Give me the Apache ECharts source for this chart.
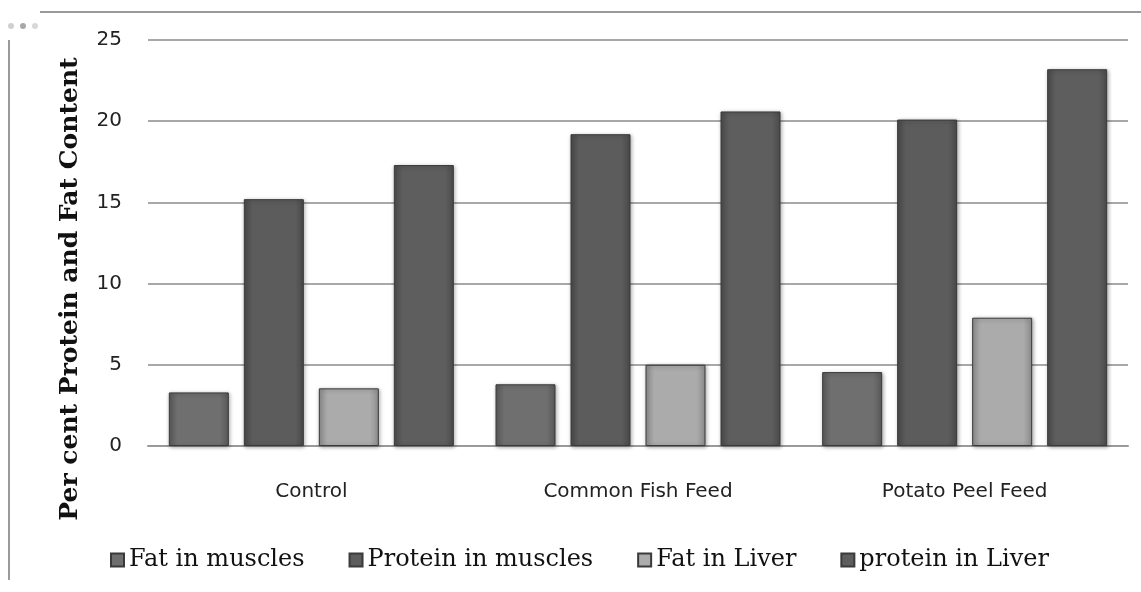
<!DOCTYPE html>
<html style="height: 100%" lang="en">
<head>
    <meta charset="UTF-8">
    <title>Protein and Fat Content</title>
</head>
<body style="height: 100%; margin: 0; background: #fff">
<div id="main" style="width: 1141px; height: 592px"></div>

<script src="https://cdn.jsdelivr.net/npm/echarts@6/dist/echarts.min.js"></script>
<script type="text/javascript">
    // data
    var categories = ['Control', 'Common Fish Feed', 'Potato Peel Feed'];
    var fatMuscles = [3.3, 3.8, 4.55];
    var proteinMuscles = [15.2, 19.2, 20.1];
    var fatLiver = [3.55, 5.0, 7.9];
    var proteinLiver = [17.3, 20.6, 23.2];
    var yTicks = [0, 5, 10, 15, 20, 25];
    var yName = 'Per cent Protein and Fat Content';

    function shade(c1, c2) {
        return new echarts.graphic.LinearGradient(0, 0, 1, 0, [
            {offset: 0, color: c2},
            {offset: 0.15, color: c1},
            {offset: 0.85, color: c1},
            {offset: 1, color: c2}
        ]);
    }

    function bar(name, values, c1, c2) {
        return {
            name: name,
            type: 'bar',
            data: values,
            barWidth: 60,
            barGap: '25%',
            itemStyle: {
                color: shade(c1, c2),
                borderColor: '#3a3a3a',
                borderWidth: 1,
                shadowColor: 'rgba(0,0,0,0.35)',
                shadowBlur: 4,
                shadowOffsetX: 1,
                shadowOffsetY: 1
            }
        };
    }

    var chart = echarts.init(document.getElementById('main'));
    chart.setOption({
        animation: false,
        graphic: [
            {type: 'line', shape: {x1: 40, y1: 12, x2: 1141, y2: 12}, style: {stroke: '#9a9a9a', lineWidth: 2}},
            {type: 'line', shape: {x1: 9, y1: 40, x2: 9, y2: 580}, style: {stroke: '#9a9a9a', lineWidth: 2}},
            {type: 'circle', shape: {cx: 11, cy: 26, r: 3}, style: {fill: '#d0d0d0'}},
            {type: 'circle', shape: {cx: 23, cy: 26, r: 3}, style: {fill: '#a8a8a8'}},
            {type: 'circle', shape: {cx: 35, cy: 26, r: 3}, style: {fill: '#d8d8d8'}},
            // y axis title, centred on the whole chart height like the reference
            {
                type: 'text', x: 70, y: 289, rotation: Math.PI / 2,
                style: {
                    text: yName, fontFamily: 'DejaVu Serif', fontWeight: 'bold', fontSize: 25,
                    fill: '#111', align: 'center', verticalAlign: 'middle'
                }
            }
        ],
        grid: {left: 148, right: 13, top: 40, bottom: 146},
        legend: {
            top: 543,
            left: 105,
            icon: 'rect',
            itemWidth: 13,
            itemHeight: 13,
            itemGap: 44,
            textStyle: {fontFamily: 'DejaVu Serif', fontSize: 24, color: '#111'},
            data: ['Fat in muscles', 'Protein in muscles', 'Fat in Liver', 'protein in Liver']
        },
        xAxis: {
            type: 'category',
            data: categories,
            axisTick: {show: false},
            axisLine: {lineStyle: {color: '#9a9a9a', width: 2}},
            axisLabel: {margin: 36, fontFamily: 'DejaVu Sans', fontSize: 20, color: '#222'}
        },
        yAxis: {
            type: 'value',
            min: yTicks[0],
            max: yTicks[yTicks.length - 1],
            interval: 5,
            axisLine: {show: false},
            axisTick: {show: false},
            axisLabel: {margin: 26, fontFamily: 'DejaVu Sans', fontSize: 20, color: '#222'},
            splitLine: {lineStyle: {color: '#a8a8a8', width: 2}}
        },
        series: [
            bar('Fat in muscles', fatMuscles, '#6f6f6f', '#5a5a5a'),
            bar('Protein in muscles', proteinMuscles, '#5c5c5c', '#4a4a4a'),
            bar('Fat in Liver', fatLiver, '#ababab', '#8e8e8e'),
            bar('protein in Liver', proteinLiver, '#5e5e5e', '#4c4c4c')
        ]
    });
</script>
</body>
</html>
